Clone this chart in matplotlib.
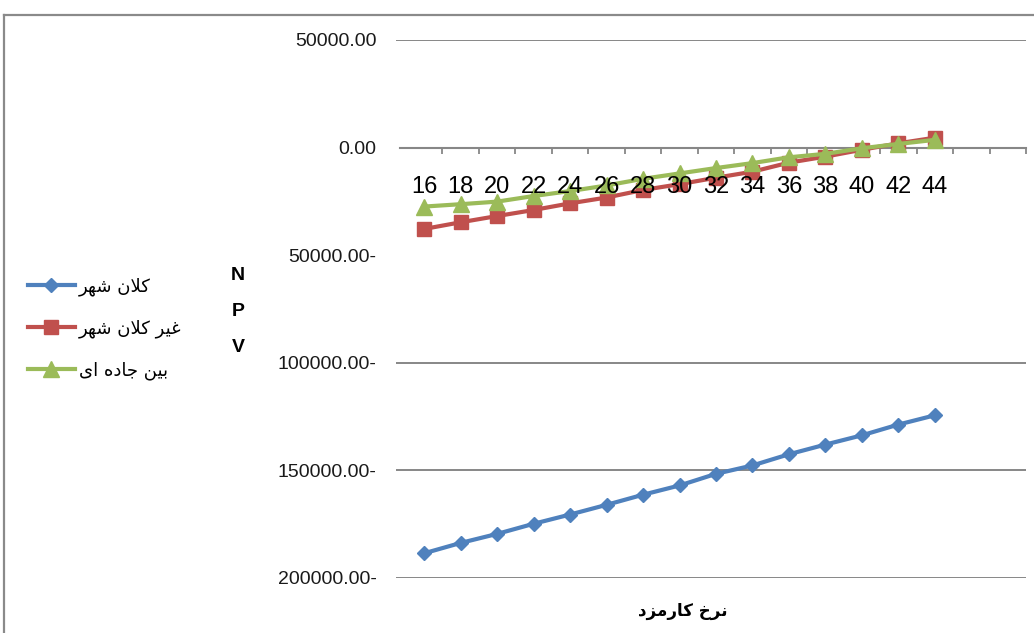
import numpy as np
import matplotlib
matplotlib.use("Agg")
import matplotlib.pyplot as plt
from matplotlib.lines import Line2D
from matplotlib.ticker import FuncFormatter

# ---- data -------------------------------------------------------------
rates = [16, 18, 20, 22, 24, 26, 28, 30, 32, 34, 36, 38, 40, 42, 44]
npv_metro = [-188500, -183700, -179500, -174800, -170500, -166000, -161300,
             -157000, -151600, -147700, -142500, -138000, -133700, -128700, -124400]
npv_nonmetro = [-37800, -34700, -31800, -29000, -25900, -23200, -19700,
                -17000, -14000, -11200, -7000, -4200, -1000, 2000, 4600]
npv_intercity = [-27400, -26300, -25100, -22500, -20200, -17600, -14500,
                 -12000, -9500, -7200, -4500, -2900, -300, 1700, 3600]
series_names = ["کلان شهر", "غیر کلان شهر", "بین جاده ای"]
y_ticks = [50000, 0, -50000, -100000, -150000, -200000]
x_title = "نرخ کارمزد"
y_title = "NPV"

# ---- minimal Persian shaping (presentation forms + visual order) -----
FORMS = {
    "ا": ("\uFE8D", "\uFE8E", None, None),
    "ب": ("\uFE8F", "\uFE90", "\uFE91", "\uFE92"),
    "ج": ("\uFE9D", "\uFE9E", "\uFE9F", "\uFEA0"),
    "خ": ("\uFEA5", "\uFEA6", "\uFEA7", "\uFEA8"),
    "د": ("\uFEA9", "\uFEAA", None, None),
    "ر": ("\uFEAD", "\uFEAE", None, None),
    "ز": ("\uFEAF", "\uFEB0", None, None),
    "ش": ("\uFEB5", "\uFEB6", "\uFEB7", "\uFEB8"),
    "غ": ("\uFECD", "\uFECE", "\uFECF", "\uFED0"),
    "ل": ("\uFEDD", "\uFEDE", "\uFEDF", "\uFEE0"),
    "م": ("\uFEE1", "\uFEE2", "\uFEE3", "\uFEE4"),
    "ن": ("\uFEE5", "\uFEE6", "\uFEE7", "\uFEE8"),
    "ه": ("\uFEE9", "\uFEEA", "\uFEEB", "\uFEEC"),
    "ک": ("\uFB8E", "\uFB8F", "\uFB90", "\uFB91"),
    "ی": ("\uFBFC", "\uFBFD", "\uFBFE", "\uFBFF"),
}


def joins_next(c):
    return c in FORMS and FORMS[c][2] is not None


def shape(text):
    chars = list(text)
    out = []
    i = 0
    n = len(chars)
    while i < n:
        c = chars[i]
        if c not in FORMS:
            out.append(c)
            i += 1
            continue
        prev_conn = i > 0 and joins_next(chars[i - 1])
        if c == "ل" and i + 1 < n and chars[i + 1] == "ا":
            out.append("\uFEFC" if prev_conn else "\uFEFB")
            i += 2
            continue
        nxt = chars[i + 1] if i + 1 < n else None
        next_conn = joins_next(c) and nxt in FORMS
        iso, fin, ini, med = FORMS[c]
        if prev_conn and next_conn:
            out.append(med)
        elif prev_conn:
            out.append(fin)
        elif next_conn:
            out.append(ini)
        else:
            out.append(iso)
        i += 1
    return "".join(reversed(out))


# ---- figure -----------------------------------------------------------
W, H = 1034, 633
fig = plt.figure(figsize=(W / 100, H / 100), dpi=100)
fig.patch.set_facecolor("white")


def fx(px):
    return px / W


def fy(py):
    return 1 - py / H


GRID = "#878787"
slot_px = 36.47
n_slots = 17

ax = fig.add_axes([fx(396), fy(578), fx(1026) - fx(396), fy(40) - fy(578)])
ax.set_xlim(-0.5 - 10 / slot_px, n_slots - 0.5)
ax.set_ylim(-200000, 50000)

for side in ("left", "right", "top"):
    ax.spines[side].set_visible(False)
ax.spines["bottom"].set_position(("data", 0))
ax.spines["bottom"].set_bounds(-0.5 - 6 / slot_px, n_slots - 0.5)
ax.spines["bottom"].set_color(GRID)
ax.spines["bottom"].set_linewidth(1.5)

ax.set_xticks(np.arange(1, n_slots + 1) - 0.5)
ax.tick_params(axis="x", direction="out", length=4, width=1.3, color=GRID,
               labelbottom=False)

ax.set_yticks(y_ticks)
ax.yaxis.set_major_formatter(FuncFormatter(
    lambda v, p: f"{abs(v):.2f}-" if v < 0 else f"{v:.2f}"))
ax.tick_params(axis="y", length=0, pad=14, labelsize=14, labelcolor="#1a1a1a")
for lab in ax.get_yticklabels():
    lab.set_family("Liberation Sans")
ax.yaxis.grid(True, color=GRID, linewidth=1.4)
for gl, t in zip(ax.get_ygridlines(), y_ticks):
    if t in (0, -50000):
        gl.set_visible(False)
ax.set_axisbelow(True)

xs = np.arange(len(rates))
styles = [
    (npv_metro, "#4F81BD", "D", 7.5),
    (npv_nonmetro, "#C0504D", "s", 10.5),
    (npv_intercity, "#9BBB59", "^", 12),
]
handles = []
for k, (vals, col, mk, ms) in enumerate(styles):
    h, = ax.plot(xs, vals, color=col, lw=3, marker=mk, ms=ms,
                 markeredgecolor=col, zorder=3 + k, clip_on=False)
    handles.append(h)

for i, r in enumerate(rates):
    ax.annotate(str(r), xy=(i, 0), xytext=(0, -28.5), textcoords="offset points",
                ha="center", va="center", fontsize=17, color="black",
                family=["Liberation Sans Narrow", "Liberation Sans"], zorder=10)

# legend on the left
fig.legend(handles, [shape(s) for s in series_names], loc="center left",
           bbox_to_anchor=(fx(28), fy(329)), frameon=False,
           prop={"family": "DejaVu Sans", "size": 13},
           handlelength=2.6, handletextpad=0.2, labelspacing=1.3,
           borderpad=0, borderaxespad=0)

# vertical axis title, one letter per line
for j, ch in enumerate(y_title):
    fig.text(fx(238), fy(275 + 36.5 * j), ch, ha="center", va="center",
             fontsize=14, fontweight="bold", family="Liberation Sans")

# horizontal axis title
fig.text(fx(683), fy(611), shape(x_title), ha="center", va="center",
         fontsize=12, fontweight="bold", family="DejaVu Sans")

# chart-area border (top and left edges)
fig.add_artist(Line2D([fx(4), 1], [fy(15), fy(15)], transform=fig.transFigure,
                      color="#8a8a8a", lw=1.6))
fig.add_artist(Line2D([fx(4), fx(4)], [fy(15), 0], transform=fig.transFigure,
                      color="#8a8a8a", lw=1.6))

fig.savefig("out.png", dpi=100)
